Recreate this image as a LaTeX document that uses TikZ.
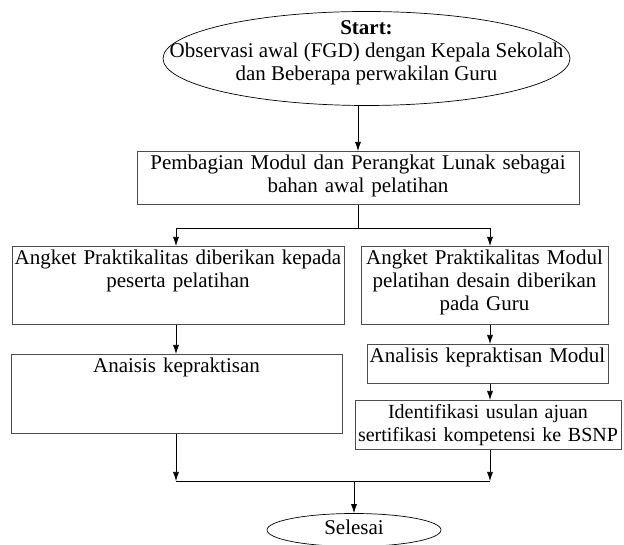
\documentclass[tikz,border=0pt]{standalone}
\usepackage{fontspec}
\setmainfont{Liberation Serif}
\usetikzlibrary{arrows.meta,shapes.geometric}
\tikzset{
	proses/.style   = {rectangle, draw=black!70, line width=0.7pt, anchor=north,
		align=center, inner xsep=-10pt, inner ysep=3pt, text height=15pt},
	terminal/.style = {ellipse, draw, line width=0.7pt, inner sep=0pt},
	panah/.style    = {-{Latex[length=9pt,width=6pt]}, line width=0.7pt},
	garis/.style    = {line width=0.7pt},
}

\begin{document}
\begin{tikzpicture}[x=1pt, y=1pt, font=\fontsize{21}{23}\selectfont]
\useasboundingbox (0,0) rectangle (624,545);
% awal dan akhir
\node[terminal, minimum width=407pt, minimum height=94pt,
	label={[align=center, inner sep=0pt, yshift=6pt]center:{\textbf{Start:}\\
		Observasi awal (FGD) dengan Kepala Sekolah\\dan Beberapa perwakilan Guru}}]
	(mulai) at (366.5,486.5) {};
\node[terminal, minimum width=174pt, minimum height=33pt, text depth=6pt]
	(selesai) at (354,15) {Selesai};
% kotak proses (lebar kotak = text width - 20pt)
\node[proses, text width=462pt, text depth=32pt] (bagi) at (358,394)
	{Pembagian Modul dan Perangkat Lunak sebagai\\bahan awal pelatihan};
\node[proses, text width=352pt, text depth=57pt] (kiri1) at (178,299)
	{Angket Praktikalitas diberikan kepada\\peserta pelatihan};
\node[proses, text width=267pt, text depth=57pt] (kanan1) at (484.5,299)
	{Angket Praktikalitas Modul\\pelatihan desain diberikan\\pada Guru};
\node[proses, text width=351pt, text depth=58pt] (kiri2) at (176.5,191)
	{Anaisis kepraktisan};
\node[proses, text width=261pt, text depth=18pt] (kanan2) at (487.5,201)
	{Analisis kepraktisan Modul};
\node[proses, text width=286pt, text depth=28pt, font=\fontsize{20}{23}\selectfont]
	(kanan3) at (488,145)
	{Identifikasi usulan ajuan\\sertifikasi kompetensi ke BSNP};
% jalur
\coordinate (kolkiri) at (176,0);
\coordinate (kolkanan) at (490,0);
\coordinate (cabang) at (bagi.south |- 0,317);
\coordinate (gabung) at (selesai.north |- 0,64);
\draw[panah] (bagi.north |- mulai.south) -- (bagi.north);
\draw[garis] (bagi.south) -- (cabang);
\draw[panah] (cabang) -| (kiri1.north -| kolkiri);
\draw[panah] (cabang) -| (kanan1.north -| kolkanan);
\draw[panah] (kiri1.south -| kolkiri) -- (kiri2.north -| kolkiri);
\draw[panah] (kanan1.south -| kolkanan) -- (kanan2.north -| kolkanan);
\draw[panah] (kanan2.south -| kolkanan) -- (kanan3.north -| kolkanan);
\draw[panah] (kiri2.south -| kolkiri) -- (gabung -| kolkiri);
\draw[panah] (kanan3.south -| kolkanan) -- (gabung -| kolkanan);
\draw[garis] (gabung -| kolkiri) -- (gabung -| kolkanan);
\draw[panah] (gabung) -- (selesai.north);
\end{tikzpicture}
\end{document}
